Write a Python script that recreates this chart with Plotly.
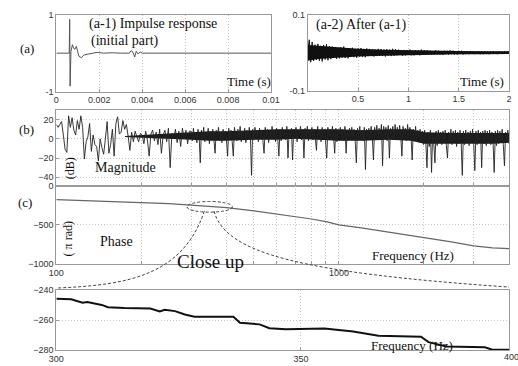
import numpy as np
import plotly.graph_objects as go

W, H = 518, 366

# ---------------- data ----------------
# (a-1) impulse response, initial part (time in s)
a1_time = [0, 0.0006, 0.00062, 0.00064, 0.00068, 0.00075, 0.00081, 0.00087, 0.00093,
           0.00105, 0.00117, 0.00128, 0.00143, 0.00165, 0.0019, 0.0022, 0.0026, 0.003,
           0.0034, 0.00347, 0.00355, 0.00365, 0.00372, 0.0038, 0.0039, 0.004, 0.0045,
           0.005, 0.006, 0.007, 0.008, 0.009, 0.01]
a1_resp = [0, 0, 0.88, -0.86, 0.05, 0.22, 0.12, 0.10, 0.18,
           -0.08, -0.12, -0.05, -0.03, 0.0, 0.02, 0.0, 0.01, 0.0,
           0.0, 0.06, 0.04, -0.1, 0.05, -0.02, 0.03, 0.0, 0.0,
           0.01, 0.0, 0.0, 0.0, 0.0, 0.0]

# (a-2) response after (a-1), in thousandths, sampled evenly over 0..2 s
a2_milli = ([5, 34, -25, 28]
            + [-22, 21, -19, 23, -21, 18, -23, 20, -18, 22, -20, 17]
            + [-17, 16, -14, 15, -16, 13, -15, 14, -13, 16, -14, 12, -15]
            + [12, -11, 13, -12, 10, -13, 11, -10, 12, -11, 10, -12, 11]
            + [-9, 10, -8, 9, -10, 8, -9, 10, -8, 9, -9, 8, -10, 9, -8, 8, -9, 10, -8, 9]
            + [-7, 8, -6, 7, -8, 6, -7, 7, -6, 8, -7, 6, -7, 7, -6, 6, -7, 8, -6, 7]
            + [-5, 6, -5, 5, -6, 4, -5, 6, -4, 5, -5, 4, -6, 5, -4, 5, -5, 6, -4, 5, -5, 4, -5, 5, -4, 5, -5]
            + [4, -4, 3, -4, 4, -3, 4, -4, 3, -3, 4, -4, 3, -4, 4, -3, 3, -4, 4, -3, 4, -3, 3, -4, 4, -3, 3, -3, 4, -3, 3, -3])
# dense core of the (a-2) decay (thousandths)
a2_env_time = [0, 0.05, 0.1, 0.2, 0.3, 0.5, 0.75, 1.0, 1.25, 1.5, 1.75, 2.0]
a2_env_upper = [20, 19, 17, 15, 13, 10, 8, 6.5, 5.5, 4.5, 4, 3.5]
a2_env_lower = [-21, -19, -17, -15, -13, -10, -8, -6.5, -5.5, -4.5, -4, -3.5]

# (b) magnitude in dB, 100-300 Hz and 300-4000 Hz (log-spaced samples)
mag_low = [15, 12, 15, 18, 4, -11, -14, 24, 12, 22, 9, 4, 19, 10, 24, 12, -21, -3, 2, 16,
           -13, 4, -6, -8, -23, 0, -9, -16, 0, 18, -15, -6, 10, -18, 16, 23, 5, 7, 19, 10,
           15, 3, -12, 7, -3, 8, 2, -3, 6, 4, -5, 8, -1, -18, 5, 9, -2, 7, -6, 10,
           -15, 4, 9, -3, 11, -30, 6, 0, 10, -4, 8, -8, 11, 0, 9, -5, 8]
mag_high = [8, -2, 11, 1, 6, -4, 10, 2, -25, 9, 0, 12, -3, 7, 3, 11, -5, 8, 1, 10,
            -1, -15, 9, 2, 12, -2, 7, -4, 10, 3, 8, -1, -18, 11, 0, 9, -3, -18, 12, 4,
            -2, 10, 1, 13, -3, 8, 2, 11, -4, 9, 0, 12, 3, -38, 10, -1, 12, 2, 8, -3,
            11, 1, 9, -2, -15, 12, 3, 10, -4, 8, 0, 13, 2, 9, -3, 11, 1, -18, 10, -2,
            12, 3, 9, -1, 13, -20, 8, 2, 11, -22, 10, 0, 12, -3, 9, 4, 13, -1, 10, -20,
            11, 2, 13, -2, 9, 3, 12, -1, 10, 0, -12, 13, 4, 9, -3, 12, 1, 10, -2, -20,
            12, 3, 10, -1, 13, 2, -15, 11, -3, 9, 4, 12, 0, 10, -2, 13, -15, 9, 3, 11,
            -1, 12, 2, 10, -3, -25, 11, 4, 13, 0, 9, -2, 12, -32, 10, 3, 11, -1, 13, 2,
            -22, 12, 4, 14, -1, 11, 3, 15, -28, 13, 2, 12, -2, 14, -20, 11, 5, 13, 0, 15,
            3, 12, -1, 14, 2, -18, 13, 4, 11, -2, 15, 1, 12, 3, -22, 10, 0, 13, -3, 9,
            2, 10, -4, 8, -6, 9, -3, -30, 7, -8, 9, -35, 6, -5, -25, 8, -7, 9, -4, 7,
            -6, 8, -3, 9, -7, -20, 7, -4, 10, -6, 8, -2, 9, -8, 7, -5, 9, -3, -38, 8,
            -6, 9, -4, 7, -7, 8, -3, 10, -5, -33, 8, -6, 9, -2, 7, -30, 8, -5, 9, -7,
            8, -4, 9, -6, 7, -3, -35, 8, -7, 9, -5, 8, -2, 10, -6, -28, 7, -4, 9, -5]
# dense core of the magnitude (dB)
mag_env_freq = [175, 220, 260, 300, 350, 400, 500, 600, 700, 800, 1000, 1200, 1500,
                1800, 2000, 2500, 3000, 3500, 4000]
mag_env_upper = [3, 5, 6, 7, 8, 8, 9, 10, 10, 10, 10, 9, 10, 10, 7, 6, 6, 6, 6]
mag_env_lower = [2, 1, 0, -1, -2, -2, -1, -1, 0, -1, -2, -2, -1, -2, -5, -5, -5, -5, -4]

# (c) phase (pi rad)
phase_freq = [100, 150, 200, 250, 300, 350, 400, 500, 600, 700, 800, 900, 1000,
              1200, 1500, 2000, 2500, 3000, 3500, 4000]
phase_val = [-175, -195, -210, -228, -246, -263, -280, -320, -360, -400, -425, -460, -500,
             -540, -592, -660, -720, -770, -795, -805]

# close-up of phase, 300-400 Hz
close_freq = [300, 302.8, 305, 305.9, 308.7, 309.9, 313.1, 318.3, 320.2, 321.2, 323.3,
              325.3, 327.3, 332.1, 335.4, 336.8, 339.5, 341, 343.1, 346.7, 355.2, 361.7,
              367.5, 377.5, 379.3, 383.6, 393, 394.7, 399.1]
close_val = [-245.8, -246.2, -248.4, -248, -249.9, -251.4, -252, -252.3, -254.2, -253.1, -254,
             -256.3, -257.8, -258, -257.8, -261.7, -262.4, -262.8, -265.4, -266, -265.6, -267.5,
             -270.3, -271, -274.6, -277.4, -278, -279.5, -279.6]

# tick labels
a1_ticks = [0, 0.002, 0.004, 0.006, 0.008, 0.01]
a1_ticktext = ['0', '0.002', '0.004', '0.006', '0.008', '0.01']
a2_ticks = [0.5, 1, 1.5, 2]
log_grid = [100, 200, 300, 400, 500, 600, 700, 800, 900, 1000, 2000, 3000, 4000]
log_labels = ['100' if f == 100 else '1000' if f == 1000 else '' for f in log_grid]

# ---------------- helpers ----------------
def px(x):
    return x / W

def py(y):
    return 1 - y / H

def dom_x(a, b):
    return [px(a), min(1.0, px(b))]

def dom_y(top, bottom):
    return [py(bottom), py(top)]

TICKFONT = dict(family='Liberation Sans, Arial, sans-serif', size=9, color='#333')
SERIF = 'Liberation Serif, Times New Roman, serif'

def axis(**kw):
    base = dict(showline=True, mirror=True, linecolor='#999', linewidth=1,
                showgrid=True, gridcolor='#c4c4c4', griddash='1px,2px', gridwidth=1,
                zeroline=False, ticks='inside', ticklen=3, tickcolor='#999',
                tickfont=TICKFONT)
    base.update(kw)
    return base

fig = go.Figure()

fig.add_trace(go.Scatter(x=a1_time, y=a1_resp, mode='lines',
                         line=dict(color='#555', width=1), xaxis='x', yaxis='y'))

# (a-2): dense core band + oscillation
fig.add_trace(go.Scatter(x=a2_env_time, y=np.array(a2_env_upper) / 1000.0, mode='lines',
                         line=dict(width=0, color='#111'), xaxis='x2', yaxis='y2'))
fig.add_trace(go.Scatter(x=a2_env_time, y=np.array(a2_env_lower) / 1000.0, mode='lines',
                         line=dict(width=0, color='#111'), fill='tonexty', fillcolor='#111',
                         xaxis='x2', yaxis='y2'))
a2_vals = np.array(a2_milli) / 1000.0
a2_time = np.linspace(0, 2, len(a2_vals))
fig.add_trace(go.Scatter(x=a2_time, y=a2_vals, mode='lines',
                         line=dict(color='#111', width=1, simplify=False),
                         xaxis='x2', yaxis='y2'))

# (b): dense core band + magnitude trace
fig.add_trace(go.Scatter(x=mag_env_freq, y=mag_env_upper, mode='lines',
                         line=dict(width=0, color='#111'), xaxis='x3', yaxis='y3'))
fig.add_trace(go.Scatter(x=mag_env_freq, y=mag_env_lower, mode='lines',
                         line=dict(width=0, color='#111'), fill='tonexty', fillcolor='#1a1a1a',
                         xaxis='x3', yaxis='y3'))
freq_mag = np.concatenate([np.geomspace(100, 300, len(mag_low), endpoint=False),
                           np.geomspace(300, 4000, len(mag_high))])
mag_all = np.array(mag_low + mag_high, dtype=float)
fig.add_trace(go.Scatter(x=freq_mag, y=mag_all, mode='lines',
                         line=dict(color='#222', width=0.9, simplify=False),
                         xaxis='x3', yaxis='y3'))

fig.add_trace(go.Scatter(x=phase_freq, y=phase_val, mode='lines',
                         line=dict(color='#666', width=1.2), xaxis='x4', yaxis='y4'))

fig.add_trace(go.Scatter(x=close_freq, y=close_val, mode='lines',
                         line=dict(color='#111', width=2.0), xaxis='x5', yaxis='y5'))

log_hi = np.log10(4000)
close_hi = np.log10(300) + (468 / 472) * np.log10(400 / 300)

fig.update_layout(
    width=W, height=H, margin=dict(l=0, r=0, t=0, b=0),
    paper_bgcolor='white', plot_bgcolor='white', showlegend=False,
    xaxis=axis(domain=dom_x(50, 272), anchor='y', range=[0, 0.01],
               tickvals=a1_ticks, ticktext=a1_ticktext),
    yaxis=axis(domain=dom_y(10, 89), anchor='x', range=[-1, 1],
               tickvals=[-1, 1], ticktext=['-1', '1'], showgrid=False),
    xaxis2=axis(domain=dom_x(310, 518), anchor='y2', range=[0, 2],
                tickvals=a2_ticks, ticktext=['0.5', '1', '1.5', '2']),
    yaxis2=axis(domain=dom_y(10, 88), anchor='x2', range=[-0.1, 0.1],
                tickvals=[-0.1, 0.1], ticktext=['-0.1', '0.1'], showgrid=False),
    xaxis3=axis(domain=dom_x(50, 518), anchor='y3', type='log', range=[2, log_hi],
                tickvals=log_grid, showticklabels=False),
    yaxis3=axis(domain=dom_y(108, 186), anchor='x3', range=[-49, 30],
                tickvals=[-40, -20, 0, 20]),
    xaxis4=axis(domain=dom_x(50, 518), anchor='y4', type='log', range=[2, log_hi],
                tickvals=log_grid, ticktext=log_labels),
    yaxis4=axis(domain=dom_y(186, 266), anchor='x4', range=[-1000, 0],
                tickvals=[-1000, -500, 0]),
    xaxis5=axis(domain=dom_x(50, 518), anchor='y5', type='log',
                range=[np.log10(300), close_hi], tickvals=[300, 350]),
    yaxis5=axis(domain=dom_y(293, 355), anchor='x5', range=[-280, -240],
                tickvals=[-280, -260, -240]),
)

# ---------------- text ----------------
texts = [
    ('(a)', 20, 45, 13, 0),
    ('(a-1) Impulse response', 150, 20, 14, 0),
    ('(initial part)', 121, 37, 14, 0),
    ('Time (s)', 249, 79, 13, 0),
    ('(a-2) After (a-1)', 365, 21, 14, 0),
    ('Time (s)', 490, 79, 13, 0),
    ('(b)', 19, 128, 13, 0),
    ('(dB)', 65, 168, 12, -90),
    ('Magnitude', 122, 167, 14, 0),
    ('(c)', 18, 203, 13, 0),
    ('( π rad)', 63, 240, 12, -90),
    ('Phase', 112, 243, 14, 0),
    ('Close up', 209, 264, 19, 0),
    ('Frequency (Hz)', 419, 258, 13, 0),
    ('Frequency (Hz)', 418, 350, 13, 0),
]
ann = []
for t, x, y, s, ang in texts:
    ann.append(dict(text=t, x=px(x), y=py(y), xref='paper', yref='paper',
                    xanchor='center', yanchor='middle', showarrow=False,
                    textangle=ang, font=dict(family=SERIF, size=s, color='#111')))
ann.append(dict(text='400', x=px(521), y=py(362), xref='paper', yref='paper',
                xanchor='center', yanchor='middle', showarrow=False, font=TICKFONT))
fig.update_layout(annotations=ann)

# ---------------- close-up guides (dashed) ----------------
def P(x, y):
    return f'{px(x):.5f},{py(y):.5f}'

dash = dict(color='#444', width=1, dash='3px,2px')
shapes = [
    dict(type='circle', xref='paper', yref='paper', x0=px(185), x1=px(232),
         y0=py(213), y1=py(202), line=dash),
    dict(type='path', xref='paper', yref='paper',
         path=f'M {P(203, 212)} C {P(180, 280)} {P(120, 288)} {P(50, 291)}', line=dash),
    dict(type='path', xref='paper', yref='paper',
         path=f'M {P(213, 212)} C {P(225, 255)} {P(300, 275)} {P(518, 290)}', line=dash),
]
fig.update_layout(shapes=shapes)

fig.write_html('out.html')
